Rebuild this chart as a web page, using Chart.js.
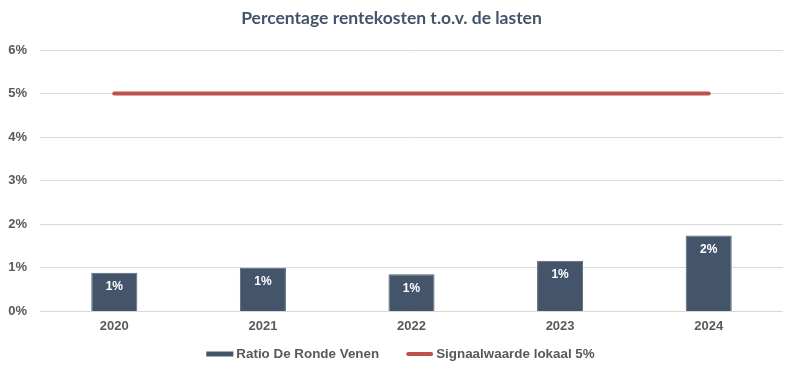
<!DOCTYPE html>
<html>
<head>
<meta charset="utf-8">
<script src="https://cdn.jsdelivr.net/npm/chart.js@4"></script>
<style>
  html, body { margin: 0; padding: 0; background: #fff; }
</style>
</head>
<body>
<canvas id="renteChart" width="797" height="374"></canvas>
<script>
const years = ['2020', '2021', '2022', '2023', '2024'];
const ratioValues = [0.89, 1.0, 0.85, 1.16, 1.74];
const signaalValues = [5, 5, 5, 5, 5];
const yTicks = [0, 1, 2, 3, 4, 5, 6];

const tickFont = { family: '"Liberation Sans", Arial, sans-serif', size: 13, weight: 'bold' };

// labels inside the bars
const barLabels = {
    id: 'barLabels',
    afterDatasetsDraw(chart) {
        const ctx = chart.ctx;
        const meta = chart.getDatasetMeta(0);
        ctx.save();
        ctx.fillStyle = '#FFFFFF';
        ctx.font = 'bold 12px "Liberation Sans", Arial, sans-serif';
        ctx.textAlign = 'center';
        ctx.textBaseline = 'middle';
        meta.data.forEach((bar, i) => {
            ctx.fillText(Math.round(ratioValues[i]) + '%', bar.x, bar.y + 14);
        });
        ctx.restore();
    }
};

// bottom legend, with wider spacing between items than Chart.js allows
const bottomLegend = {
    id: 'bottomLegend',
    afterDraw(chart) {
        const ctx = chart.ctx;
        const ds = chart.data.datasets;
        const keyW = 27, keyGap = 3, itemGap = 27, y = 354;
        ctx.save();
        ctx.font = 'bold 13.4px "Liberation Sans", Arial, sans-serif';
        ctx.textBaseline = 'middle';
        const widths = ds.map(d => keyW + keyGap + ctx.measureText(d.label).width);
        const total = widths.reduce((a, b) => a + b, 0) + itemGap * (ds.length - 1);
        let x = (chart.width - total) / 2 + 2;
        ds.forEach((d, i) => {
            if (d.type === 'line') {
                ctx.strokeStyle = d.borderColor;
                ctx.lineWidth = 4;
                ctx.lineCap = 'round';
                ctx.beginPath();
                ctx.moveTo(x + 2, y);
                ctx.lineTo(x + keyW - 2, y);
                ctx.stroke();
            } else {
                ctx.fillStyle = d.backgroundColor;
                ctx.fillRect(x, y - 2.5, keyW, 5);
            }
            ctx.fillStyle = '#595959';
            ctx.fillText(d.label, x + keyW + keyGap, y);
            x += widths[i] + itemGap;
        });
        ctx.restore();
    }
};

new Chart(document.getElementById('renteChart'), {
    data: {
        labels: years,
        datasets: [{
            type: 'bar',
            label: 'Ratio De Ronde Venen',
            data: ratioValues,
            backgroundColor: '#44546A',
            borderColor: '#55647A',
            borderWidth: 1,
            barPercentage: 0.31,
            categoryPercentage: 1,
            order: 2,
        }, {
            type: 'line',
            label: 'Signaalwaarde lokaal 5%',
            data: signaalValues,
            borderColor: '#C0504D',
            backgroundColor: '#C0504D',
            borderWidth: 4,
            pointRadius: 0,
            borderCapStyle: 'round',
            order: 1,
        }]
    },
    options: {
        responsive: false,
        animation: false,
        layout: { padding: { left: 0, right: 14, top: 2, bottom: 33 } },
        plugins: {
            title: {
                display: true,
                text: 'Percentage rentekosten t.o.v. de lasten',
                color: '#44546A',
                font: { family: 'Lato, "Open Sans", sans-serif', size: 17.5, weight: 'bold' },
                padding: { top: 6, bottom: 21 },
            },
            legend: { display: false },
            tooltip: { enabled: false },
        },
        scales: {
            x: {
                grid: { display: false, drawTicks: false },
                border: { display: false },
                ticks: { color: '#595959', font: tickFont, padding: 7 },
            },
            y: {
                min: 0,
                max: 6,
                afterBuildTicks: (axis) => { axis.ticks = yTicks.map(v => ({ value: v })); },
                afterFit: (axis) => { axis.width = 40; },
                grid: { color: '#D9D9D9', lineWidth: 1, drawTicks: false },
                border: { display: false },
                ticks: {
                    color: '#595959',
                    font: tickFont,
                    padding: 13,
                    callback: (v) => v + '%',
                },
            }
        }
    },
    plugins: [barLabels, bottomLegend],
});
</script>
</body>
</html>
